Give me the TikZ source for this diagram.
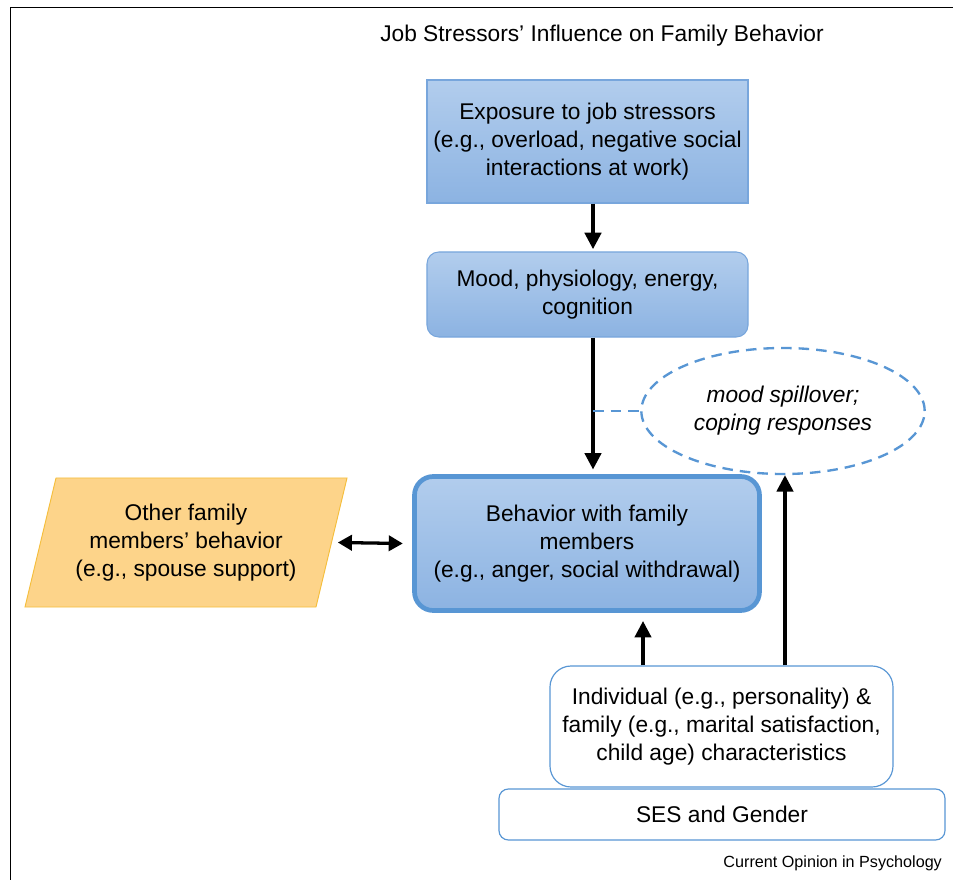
\documentclass[tikz,border=0pt]{standalone}
\usepackage{fontspec}
\setmainfont{Liberation Sans}
\usepackage{xcolor}
\usetikzlibrary{shapes.geometric, arrows.meta, positioning, calc}
\definecolor{boxtop}{RGB}{178,205,237}
\definecolor{boxbot}{RGB}{140,179,226}
\definecolor{boxline}{RGB}{120,166,220}
\definecolor{mainline}{RGB}{88,150,212}
\definecolor{orfill}{RGB}{253,212,138}
\definecolor{orline}{RGB}{245,190,60}
\newcommand{\diagfont}{\fontsize{19.4}{24}\selectfont}
\tikzset{
  stressor/.style={rectangle, draw=boxline, line width=0.9pt, top color=boxtop, bottom color=boxbot, align=center, inner sep=2pt},
  mediator/.style={stressor, rounded corners=10pt},
  behavior/.style={rectangle, rounded corners=16pt, draw=mainline, line width=4pt, top color=boxtop, bottom color=boxbot, align=center},
  moderator/.style={rectangle, rounded corners=18pt, draw=mainline, line width=1pt, fill=white, align=center},
  spill/.style={ellipse, draw=mainline, dash pattern=on 9pt off 6pt, line width=2pt, align=center, font=\diagfont\itshape},
  others/.style={trapezium, trapezium left angle=70, trapezium right angle=110, trapezium stretches body, draw=orline, line width=0.8pt, fill=orfill, align=center},
  arrow/.style={-{Triangle[width=14pt, length=14pt]}, line width=2.8pt},
  dblarrow/.style={{Triangle[width=13pt, length=12pt]}-{Triangle[width=13pt, length=12pt]}, line width=2.8pt},
}

\begin{document}
\begin{tikzpicture}[x=0.03cm, y=-0.03cm, font=\diagfont]

% frame
\useasboundingbox (0,0) rectangle (953,880);
\draw[line width=0.8pt] (10,880) -- (10,7) -- (953,7);

% title and credit
\node (title) at (602,36) {Job Stressors’ Influence on Family Behavior};
\node[anchor=east, font=\fontsize{13.8}{16}\selectfont] (credit) at (946,863) {Current Opinion in Psychology};

% main chain
\node[stressor, minimum width=9.63cm, minimum height=3.69cm] (expo) at (587.5,141.5) {Exposure to job stressors\\(e.g., overload, negative social\\interactions at work)};
\node[mediator, minimum width=9.63cm, minimum height=2.55cm] (mood) at (587.5,294.5) {Mood, physiology, energy,\\cognition};
\node[behavior, minimum width=10.35cm, minimum height=4.02cm] (fambeh) at (587,543.5) {Behavior with family\\members\\(e.g., anger, social withdrawal)};

% side nodes
\node[spill, minimum width=8.5cm, minimum height=3.78cm] (cope) at (783,411) {mood spillover;\\coping responses};
\node[others, minimum width=9.66cm, minimum height=3.87cm] (other) at (186,542.5) {Other family\\members’ behavior\\(e.g., spouse support)};

% moderators
\node[moderator, minimum width=10.29cm, minimum height=3.63cm] (indiv) at (721.5,726.5) {Individual (e.g., personality) \&\\family (e.g., marital satisfaction,\\child age) characteristics};
\node[moderator, rounded corners=8pt, minimum width=13.38cm, minimum height=1.53cm] (ses) at (722,814.5) {SES and Gender};

% arrows
\coordinate (spine) at (593,0);
\draw[arrow] (expo.south -| spine) -- ([yshift=2pt]mood.north -| spine);
\draw[arrow] (mood.south -| spine) -- ([yshift=4pt]fambeh.north -| spine);
\draw[draw=mainline, line width=2pt, dash pattern=on 9pt off 6pt] (spine |- cope.west) -- (cope.west);
\draw[dblarrow] ([xshift=5pt]other.east) -- ([xshift=-8pt]fambeh.west);
\coordinate (lefttap) at (643,0);
\coordinate (righttap) at (785,0);
\draw[arrow] (indiv.north -| lefttap) -- ([yshift=-7pt]fambeh.south -| lefttap);
\draw[arrow] (indiv.north -| righttap) -- (cope.south -| righttap);

\end{tikzpicture}
\end{document}
